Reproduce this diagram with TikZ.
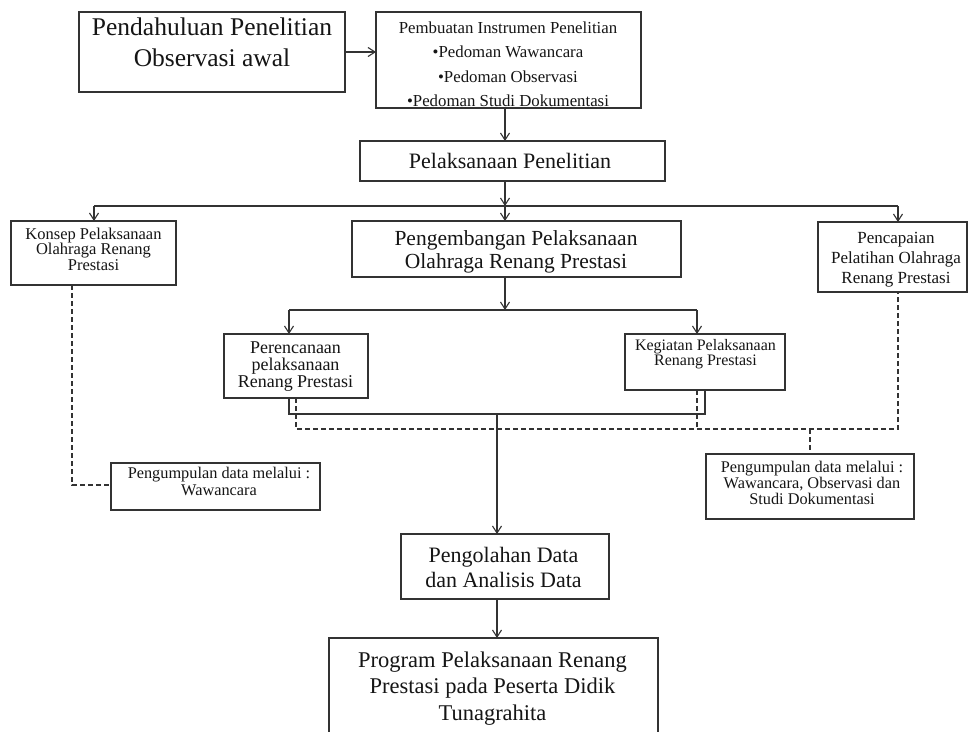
\documentclass[tikz,border=0pt]{standalone}
\usepackage{fontspec}
\setmainfont{Liberation Serif}
\usetikzlibrary{arrows.meta}
\definecolor{linec}{HTML}{333333}
\definecolor{txtc}{HTML}{151515}
\newcommand\tp{\rule{0pt}{0.8em}}
\newcommand\fs[2]{\fontsize{#1}{#2}\selectfont\lineskiplimit=-30pt\relax}
\begin{document}
\begin{tikzpicture}[x=1pt,y=-1pt,
  box/.style={draw=linec, line width=1.2pt, fill=white, inner sep=0pt, outer sep=0pt, rectangle},
  txt/.style={anchor=north, inner sep=0pt, align=center, text=txtc},
  arr/.style={draw=linec, line width=1.2pt, -{Straight Barb[length=7pt,width=9pt,line width=1.1pt]}},
  ln/.style={draw=linec, line width=1.2pt},
  dsh/.style={draw=linec, line width=1.2pt, dash pattern=on 5pt off 3pt}]
\useasboundingbox (0,0) rectangle (969,731);
\clip (0,0) rectangle (969,731);
\fill[white] (0,0) rectangle (969,731);

% boxes
\node[box, minimum width=266pt, minimum height=80pt] (pend) at (212,52) {};
\node[box, minimum width=265pt, minimum height=96pt] (pemb) at (508.5,60) {};
\node[box, minimum width=305pt, minimum height=40pt] (pel) at (512.5,161) {};
\node[box, minimum width=165pt, minimum height=64pt] (kon) at (93.5,253) {};
\node[box, minimum width=329pt, minimum height=56pt] (peng) at (516.5,249) {};
\node[box, minimum width=149pt, minimum height=70pt] (penc) at (892.5,257) {};
\node[box, minimum width=144pt, minimum height=64pt] (pere) at (296,366) {};
\node[box, minimum width=160pt, minimum height=56pt] (keg) at (705,362) {};
\node[box, minimum width=209pt, minimum height=47pt] (kumL) at (215.5,486.5) {};
\node[box, minimum width=208pt, minimum height=65pt] (kumR) at (810,486.5) {};
\node[box, minimum width=208pt, minimum height=65pt] (olah) at (505,566.5) {};
\node[box, minimum width=329pt, minimum height=132pt] (prog) at (493.5,704) {};

% texts
\node[txt, font=\fs{25.5}{31}] (pendT) at (212,14.6) {\tp Pendahuluan Penelitian\\Observasi awal};
\node[txt, font=\fs{16.8}{24.5}] (pembT) at (508,19.6) {\tp Pembuatan Instrumen Penelitian\\•Pedoman Wawancara\\•Pedoman Observasi\\•Pedoman Studi Dokumentasi};
\node[txt, font=\fs{22}{26}] (pelT) at (510,150.4) {\tp Pelaksanaan Penelitian};
\node[txt, font=\fs{16.5}{15.5}] (konT) at (93.5,225.8) {\tp Konsep Pelaksanaan\\Olahraga Renang\\Prestasi};
\node[txt, font=\fs{21.5}{23}] (pengT) at (516,227.8) {\tp Pengembangan Pelaksanaan\\Olahraga Renang Prestasi};
\node[txt, font=\fs{17}{20}] (pencT) at (896,229.4) {\tp Pencapaian\\Pelatihan Olahraga\\Renang Prestasi};
\node[txt, font=\fs{18}{17}] (pereT) at (295.5,338.6) {\tp Perencanaan\\pelaksanaan\\Renang Prestasi};
\node[txt, font=\fs{16}{15.5}] (kegT) at (705.5,337.2) {\tp Kegiatan Pelaksanaan\\Renang Prestasi};
\node[txt, font=\fs{16.3}{17}] (kumLT) at (219,465) {\tp Pengumpulan data melalui :\\Wawancara};
\node[txt, font=\fs{16.3}{16}] (kumRT) at (812,459) {\tp Pengumpulan data melalui :\\Wawancara, Observasi dan\\Studi Dokumentasi};
\node[txt, font=\fs{22}{25.5}] (olahT) at (503.5,544.4) {\tp Pengolahan Data\\dan Analisis Data};
\node[txt, font=\fs{22.5}{26.5}] (progT) at (492.5,649) {\tp Program Pelaksanaan Renang\\Prestasi pada Peserta Didik\\Tunagrahita};

% coordinates
\coordinate (ax) at (505,0);
\coordinate (j1) at (505,206);
\coordinate (jL) at (94,206);
\coordinate (jR) at (898,206);
\coordinate (j2) at (505,310);
\coordinate (j2L) at (289,310);
\coordinate (j2R) at (697,310);
\coordinate (s1) at (289,414);
\coordinate (s2) at (705,414);
\coordinate (s3) at (497,414);
\coordinate (d1) at (296,429);
\coordinate (d2) at (898,429);
\coordinate (d3) at (697,429);
\coordinate (d4) at (810,429);
\coordinate (d5) at (72,485);

% solid connectors
\draw[arr] (pend.east) -- (pend.east -| pemb.west);
\draw[arr] (pemb.south -| ax) -- (pel.north -| ax);
\draw[arr] (pel.south -| ax) -- (j1);
\draw[arr] (j1) -- (peng.north -| ax);
\draw[ln] (jL) -- (jR);
\draw[arr] (jL) -- (kon.north -| jL);
\draw[arr] (jR) -- (penc.north -| jR);
\draw[arr] (peng.south -| ax) -- (j2);
\draw[ln] (j2L) -- (j2R);
\draw[arr] (j2L) -- (pere.north -| j2L);
\draw[arr] (j2R) -- (keg.north -| j2R);
\draw[ln] (pere.south -| s1) -- (s1) -- (s2) -- (keg.south -| s2);
\draw[arr] (s3) -- (olah.north -| s3);
\draw[arr] (olah.south -| s3) -- (prog.north -| s3);

% dashed connectors
\draw[dsh] (pere.south -| d1) -- (d1) -- (d2) -- (penc.south -| d2);
\draw[dsh] (keg.south -| d3) -- (d3);
\draw[dsh] (d4) -- (kumR.north -| d4);
\draw[dsh] (kon.south -| d5) -- (d5) -- (kumL.west |- d5);
\end{tikzpicture}
\end{document}
